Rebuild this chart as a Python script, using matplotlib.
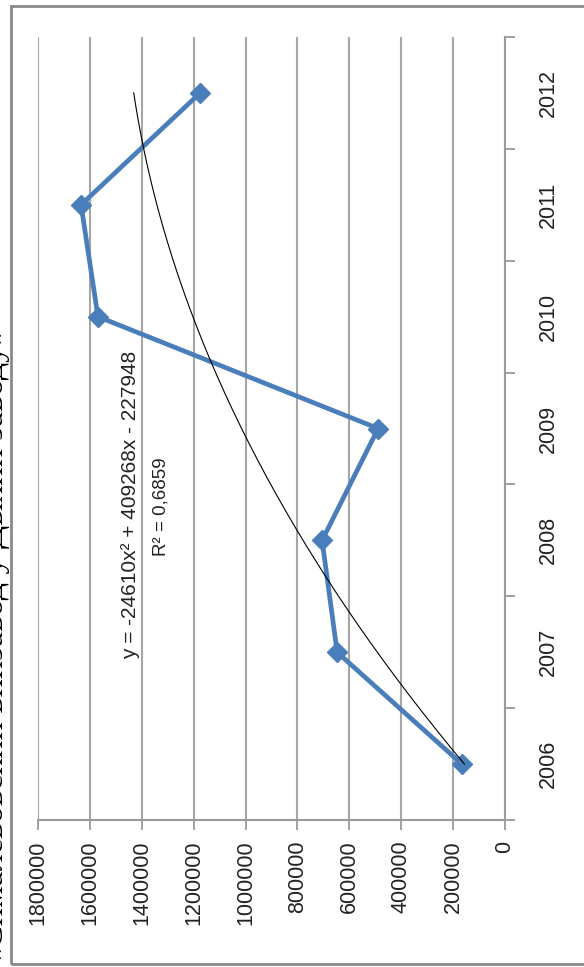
import numpy as np
import matplotlib.pyplot as plt
from matplotlib.patches import Rectangle

years = ['2006', '2007', '2008', '2009', '2010', '2011', '2012']
values = [166000, 647000, 705000, 489000, 1569000, 1634000, 1175000]
# trend coefficients as printed on the chart
trend_coef = [-24610, 409268, -227948]
trend_label = 'y = -24610x² + 409268x - 227948'
r2_label = 'R² = 0,6859'
value_ticks = [0, 200000, 400000, 600000, 800000, 1000000, 1200000, 1400000, 1600000, 1800000]
caption = '«Сималевовский винзавод у Дыхни заводу»'

plt.rcParams['font.family'] = ['Liberation Sans', 'DejaVu Sans']

W, H = 584, 967
fig = plt.figure(figsize=(W / 100, H / 100), dpi=100)
fig.patch.set_facecolor('white')

# outer frame
fig.patches.append(Rectangle((11 / W, 3 / H), 1.0, 958 / H, transform=fig.transFigure,
                             fill=False, edgecolor='#8a8a8a', linewidth=2))

# caption along the left edge, mostly outside the picture as in the source
fig.text(10 / W, 2 / H, caption, rotation=90, ha='right', va='bottom',
         fontsize=24.5, family='Liberation Serif', color='black')

ax = fig.add_axes([38 / W, (H - 820) / H, (505 - 38) / W, (820 - 37) / H])

pos = np.arange(1, len(years) + 1)
ax.plot(values, pos, color='#4a7ebb', lw=3.4, marker='D', ms=10, zorder=3)

xs = np.linspace(1, 7, 200)
ax.plot(np.polyval(trend_coef, xs), xs, color='black', lw=0.8, zorder=4)

ax.set_xlim(1800000, 0)
ax.set_ylim(0.5, 7.5)

ax.set_xticks(value_ticks)
ax.set_xticklabels([str(v) for v in value_ticks], rotation=90, fontsize=15.5, color='#222222')
ax.tick_params(axis='x', direction='out', length=7, width=1.3, color='#9a9a9a', pad=8)
ax.grid(axis='x', color='#a6a6a6', lw=1.5)

ax.yaxis.tick_right()
ax.set_yticks(np.arange(0.5, 8.0, 1.0))
ax.set_yticklabels([])
ax.set_yticks(pos, minor=True)
ax.set_yticklabels(years, minor=True, rotation=90, fontsize=15.5, color='#222222', va='center')
ax.tick_params(axis='y', which='major', direction='out', length=7, width=1.3, color='#9a9a9a')
ax.tick_params(axis='y', which='minor', length=0, pad=24)

for s in ['top', 'left']:
    ax.spines[s].set_visible(False)
for s in ['bottom', 'right']:
    ax.spines[s].set_color('#9a9a9a')
    ax.spines[s].set_linewidth(1.5)

fig.text(131 / W, (H - 505) / H, trend_label, rotation=90, ha='center', va='center',
         fontsize=15, color='#222222')
fig.text(161 / W, (H - 507) / H, r2_label, rotation=90, ha='center', va='center',
         fontsize=13.5, color='#222222')

fig.savefig('out.png', dpi=100, facecolor='white')
